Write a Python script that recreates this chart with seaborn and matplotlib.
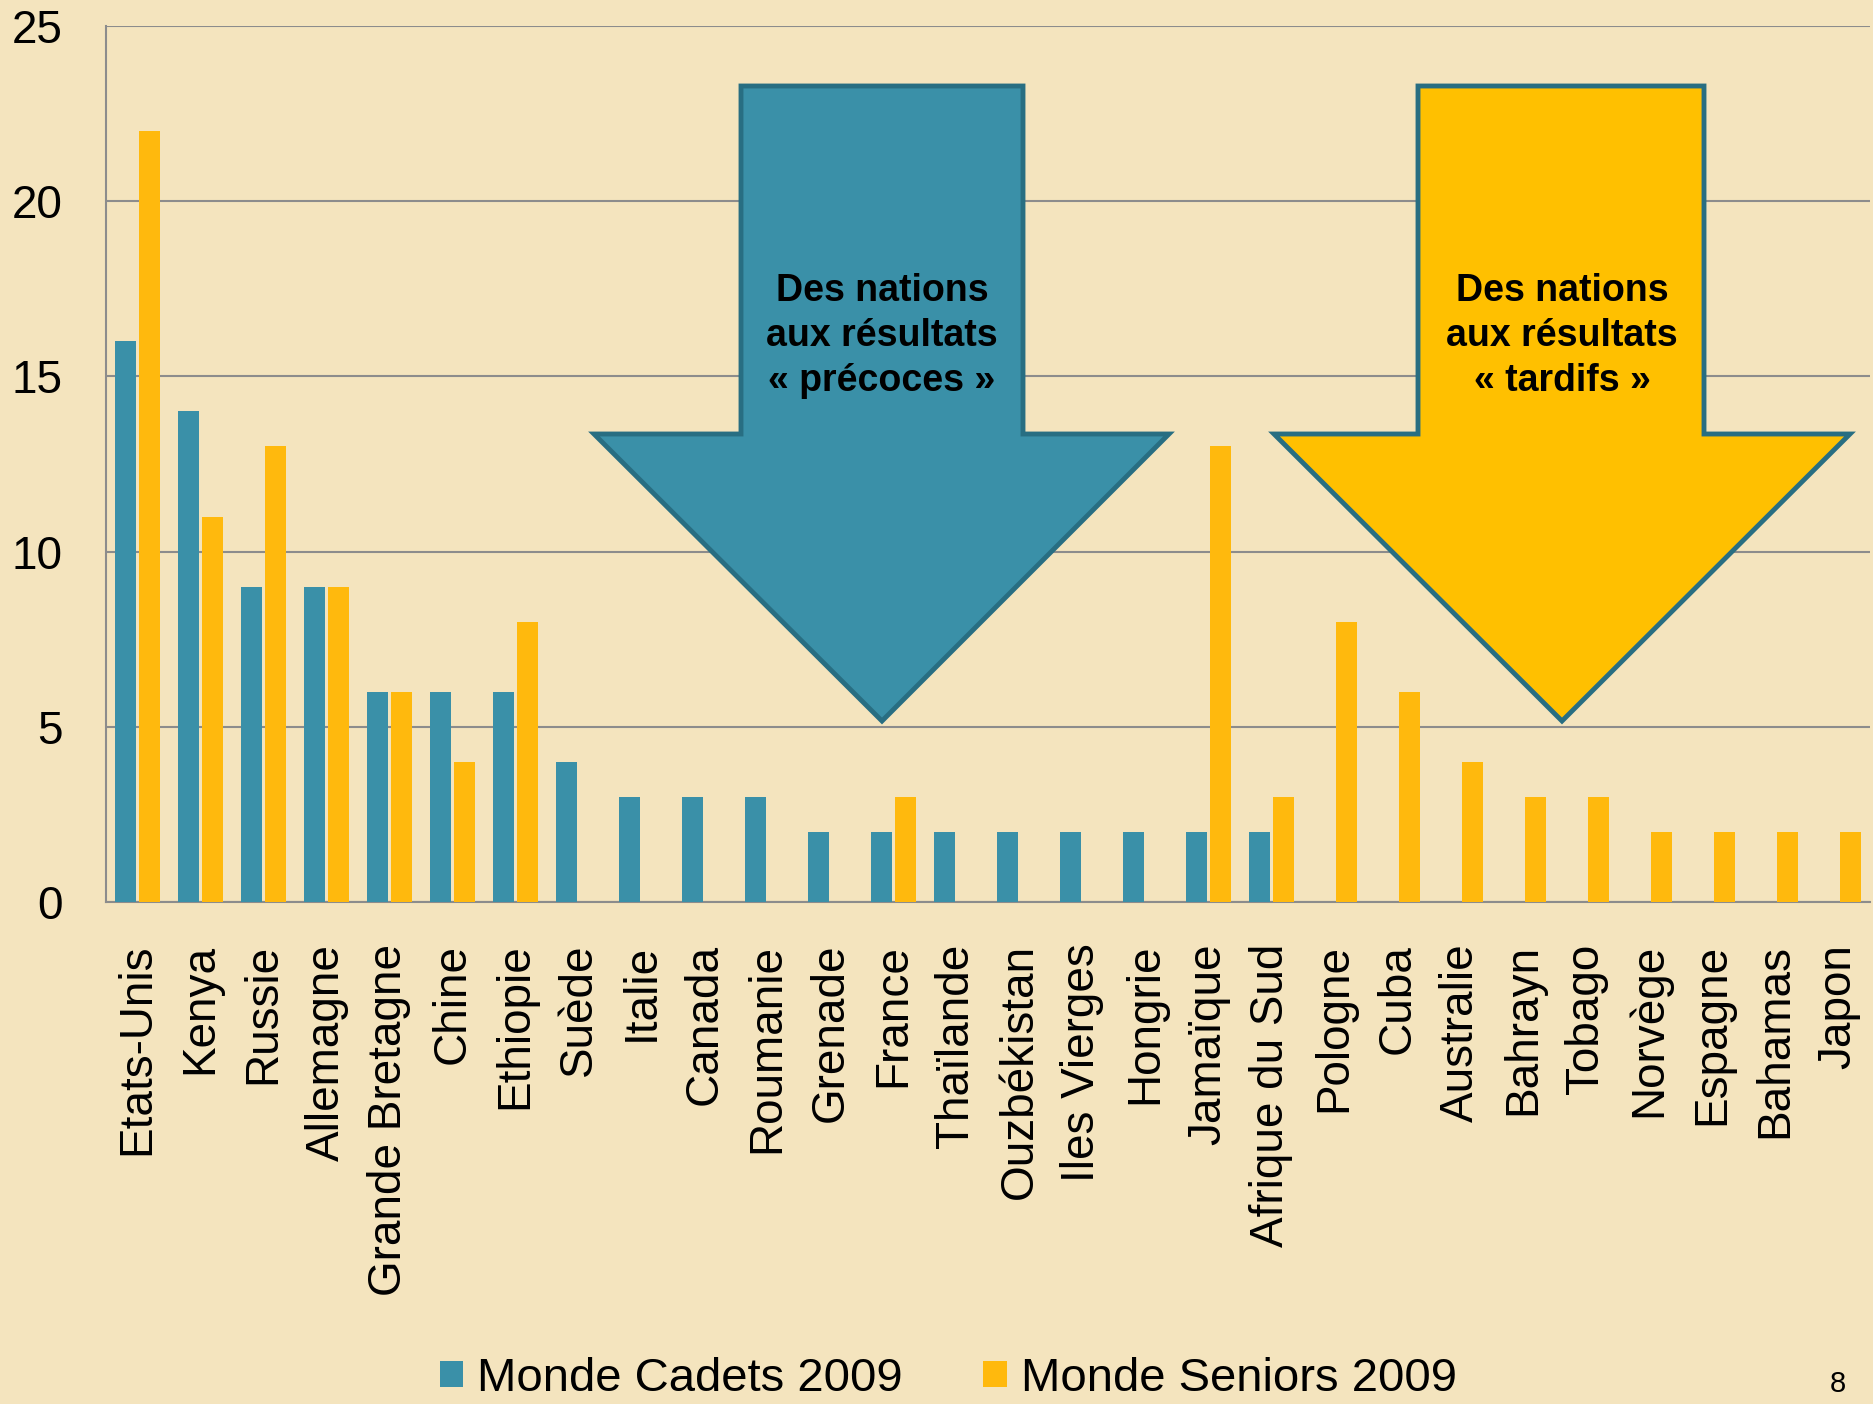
import pandas as pd
import numpy as np
import matplotlib
matplotlib.use('Agg')
import matplotlib.pyplot as plt
from matplotlib.patches import Polygon
import seaborn as sns

# données
pays = ['Etats-Unis', 'Kenya', 'Russie', 'Allemagne', 'Grande Bretagne', 'Chine',
        'Ethiopie', 'Suède', 'Italie', 'Canada', 'Roumanie', 'Grenade', 'France',
        'Thaïlande', 'Ouzbékistan', 'Iles Vierges', 'Hongrie', 'Jamaïque',
        'Afrique du Sud', 'Pologne', 'Cuba', 'Australie', 'Bahrayn', 'Tobago',
        'Norvège', 'Espagne', 'Bahamas', 'Japon']
cadets = [16, 14, 9, 9, 6, 6, 6, 4, 3, 3, 3, 2, 2, 2, 2, 2, 2, 2, 2,
          0, 0, 0, 0, 0, 0, 0, 0, 0]
seniors = [22, 11, 13, 9, 6, 4, 8, 0, 0, 0, 0, 0, 3, 0, 0, 0, 0, 13, 3,
           8, 6, 4, 3, 3, 2, 2, 2, 2]
series = ['Monde Cadets 2009', 'Monde Seniors 2009']
couleurs = ['#3A90A8', '#FFB90D']

df = pd.DataFrame({
    'pays': pays * 2,
    'valeur': cadets + seniors,
    'serie': [series[0]] * len(pays) + [series[1]] * len(pays),
})

sns.set_style('white')
plt.rcParams['font.family'] = ['Liberation Sans', 'DejaVu Sans']
plt.rcParams['text.color'] = 'black'
plt.rcParams['xtick.color'] = 'black'
plt.rcParams['ytick.color'] = 'black'

bg = '#F4E4BE'
W, H = 1874, 1404
fig = plt.figure(figsize=(W / 100, H / 100), dpi=100, facecolor=bg)
ax = fig.add_axes([106 / W, 502 / H, 1764 / W, 876 / H])
ax.set_facecolor('none')

sns.barplot(data=df, x='pays', y='valeur', hue='serie', hue_order=series,
            palette=couleurs, saturation=1, width=0.76, gap=0.1,
            errorbar=None, linewidth=0, ax=ax, zorder=3)

ax.set_xlim(-0.5, len(pays) - 0.5)
ax.set_ylim(0, 25)
ax.set_yticks([0, 5, 10, 15, 20, 25])
ax.yaxis.grid(True, color='#8C8C8C', linewidth=1.5, zorder=0)
ax.set_axisbelow(True)
for s in ['top', 'right']:
    ax.spines[s].set_visible(False)
for s in ['left', 'bottom']:
    ax.spines[s].set_color('#8C8C8C')
    ax.spines[s].set_linewidth(1.5)
ax.set_xlabel('')
ax.set_ylabel('')
ax.tick_params(axis='y', length=0, pad=31, labelsize=33)
ax.tick_params(axis='x', length=0, pad=30, labelsize=33, rotation=90)

# légende en bas
handles, labels = ax.get_legend_handles_labels()
ax.get_legend().remove()
fig.legend(handles, labels, loc='center', bbox_to_anchor=(0.506, 0.018),
           ncol=2, frameon=False, fontsize=34, handlelength=0.5,
           handleheight=0.5, handletextpad=0.3, columnspacing=1.7)

# flèches
def fleche(xl, xr, hl, hr, xtip, fill, txt):
    pts = [(xl, 86), (xr, 86), (xr, 434), (hr, 434), (xtip, 721),
           (hl, 434), (xl, 434)]
    pts = [(x / W, 1 - y / H) for x, y in pts]
    fig.patches.append(Polygon(pts, closed=True, transform=fig.transFigure,
                               facecolor=fill, edgecolor='#286E82',
                               linewidth=3.5, zorder=5))
    fig.text(xtip / W, 1 - 336 / H, txt, ha='center', va='center',
             fontsize=27, fontweight='bold', linespacing=1.32, zorder=6)

fleche(741, 1023, 594, 1169, 882, '#3A90A8',
       'Des nations\naux résultats\n« précoces »')
fleche(1418, 1704, 1274, 1850, 1562, '#FFC000',
       'Des nations\naux résultats\n« tardifs »')

fig.text(1838 / W, 1 - 1384 / H, '8', ha='center', va='center', fontsize=21)

plt.savefig('out.png', dpi=100, facecolor=bg)
